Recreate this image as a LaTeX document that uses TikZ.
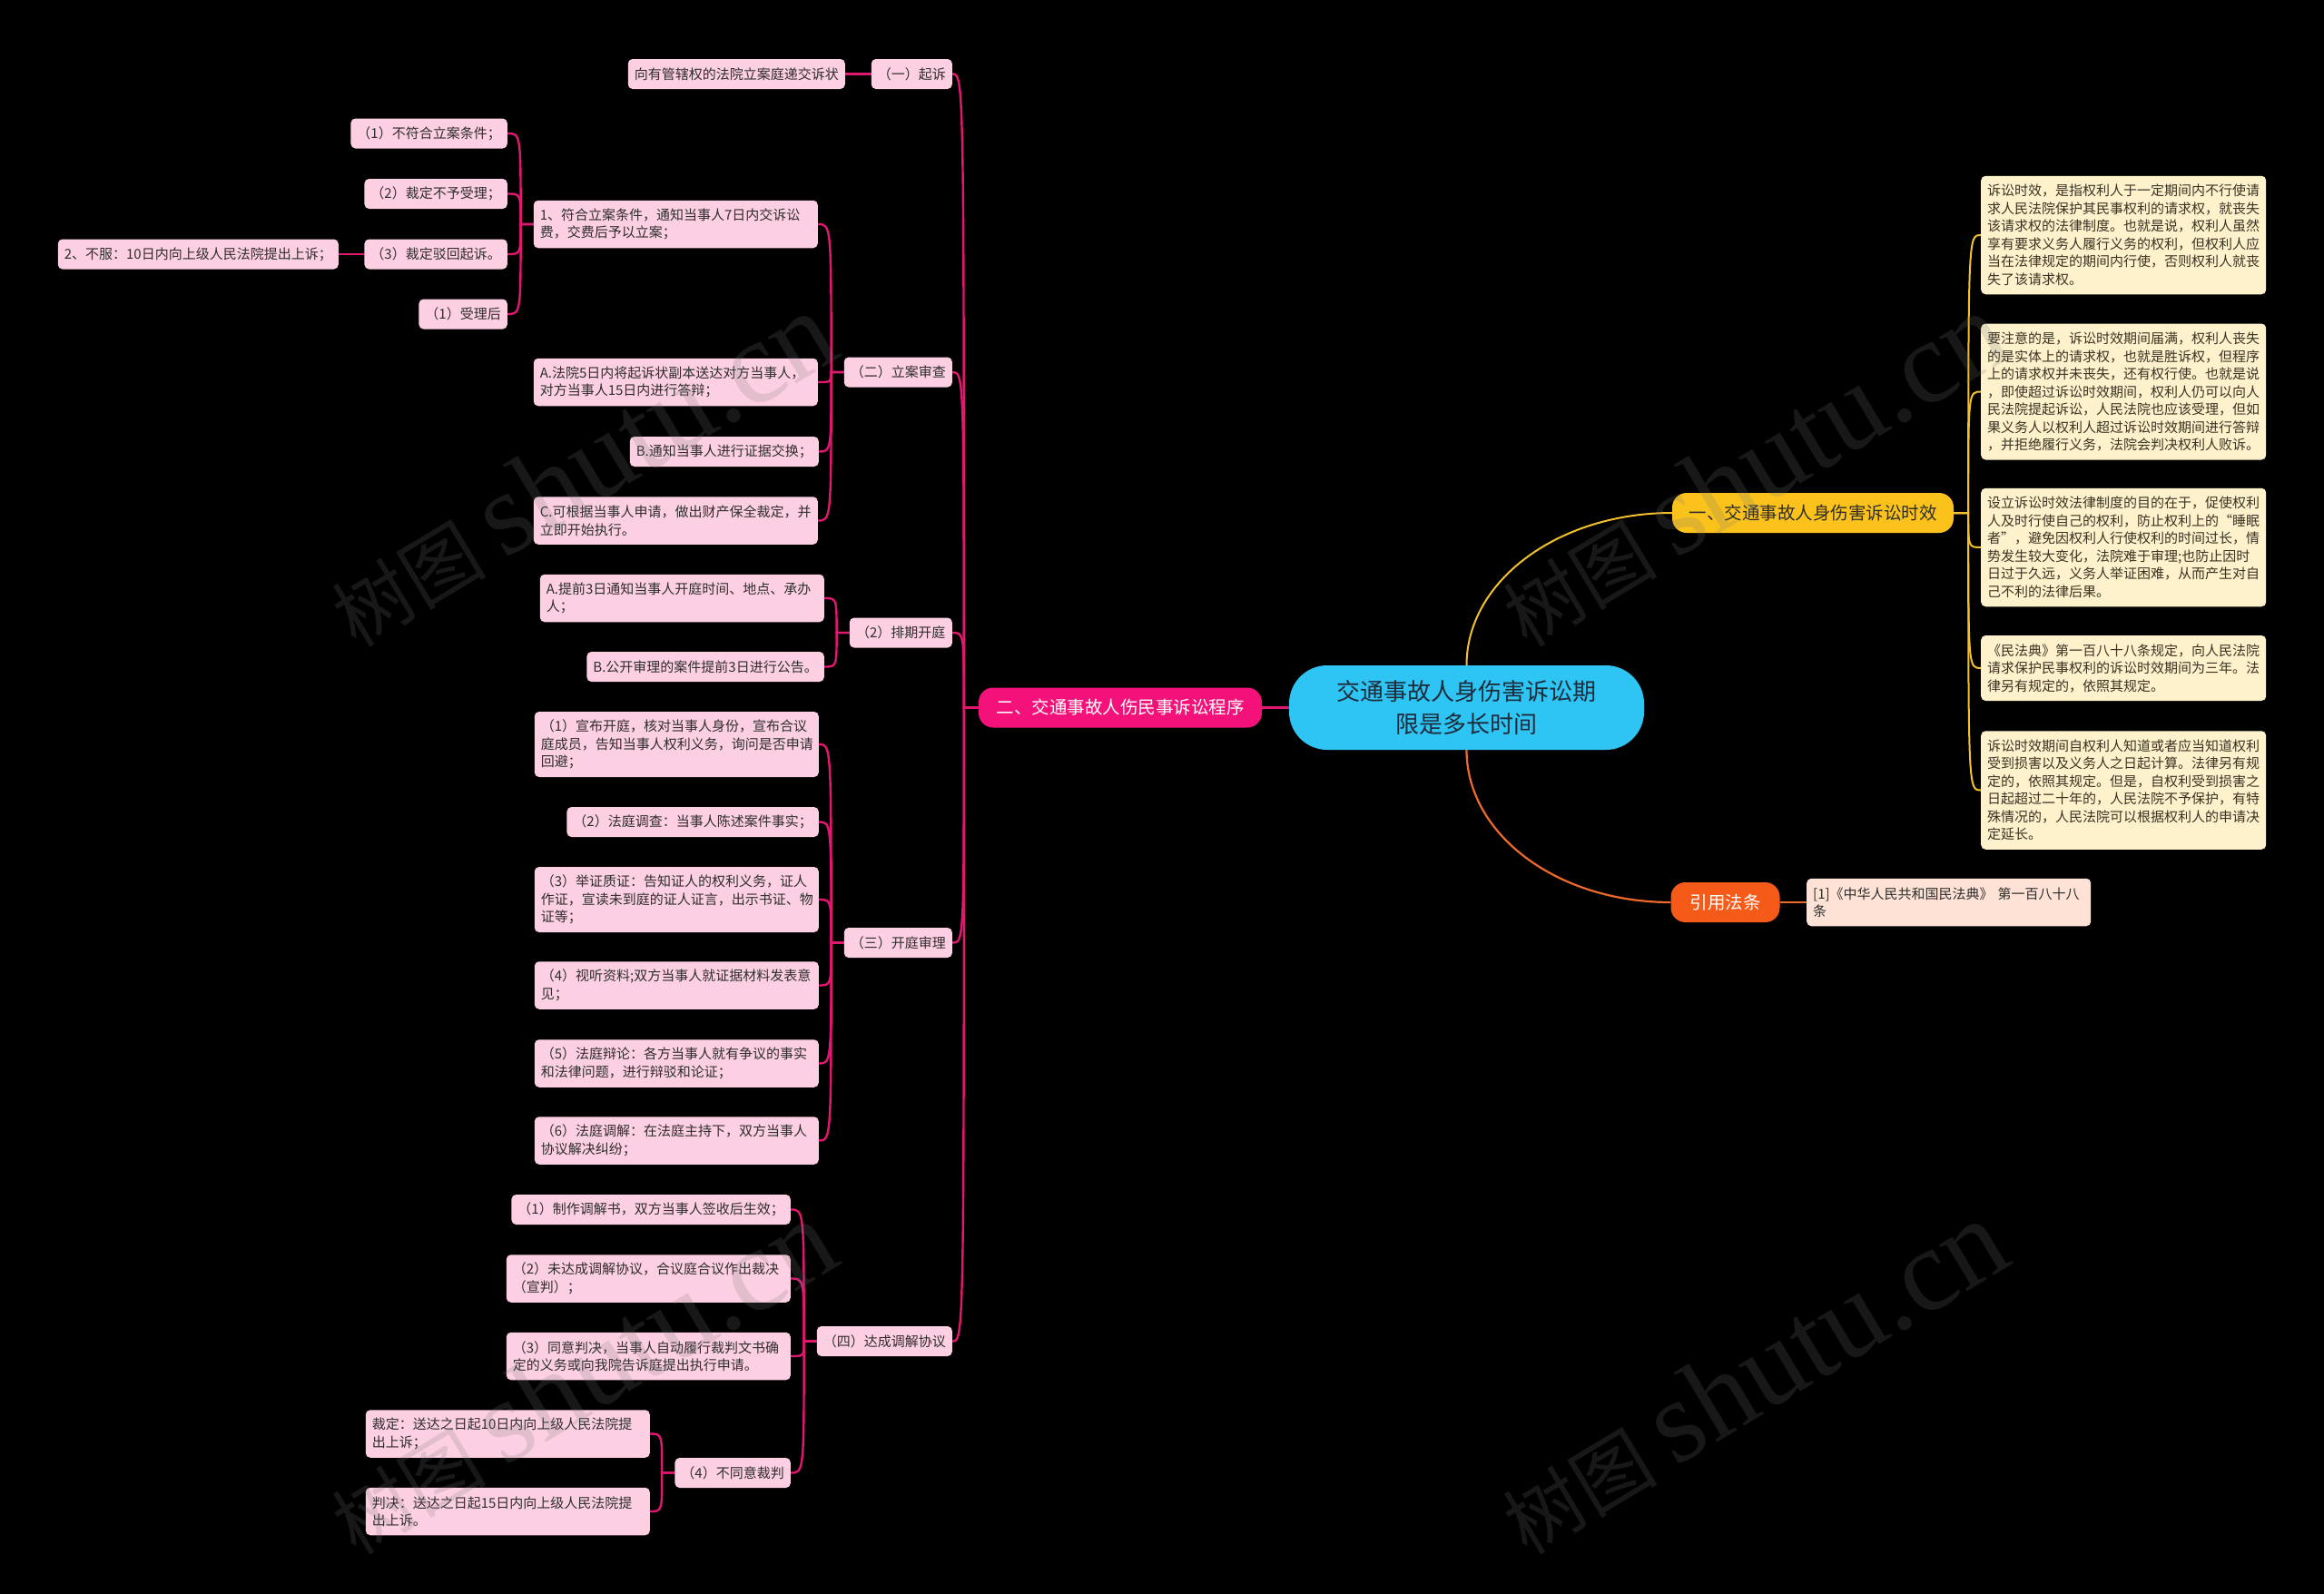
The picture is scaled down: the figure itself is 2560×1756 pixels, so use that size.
\documentclass[tikz,border=0pt]{standalone}
\usepackage{fontspec}
\setmainfont{Noto Sans CJK SC}
\newfontfamily\wmlatin{Liberation Serif}
\usetikzlibrary{calc}

\definecolor{pkfill}{HTML}{FDCFE2}
\definecolor{pktxt}{HTML}{2E2E2E}
\definecolor{pkline}{HTML}{E0186F}
\definecolor{mainpk}{HTML}{F4127A}
\definecolor{rootc}{HTML}{2EC5F4}
\definecolor{roottxt}{HTML}{1E2B3A}
\definecolor{ylfill}{HTML}{FBC21C}
\definecolor{ylline}{HTML}{F3C12C}
\definecolor{crfill}{HTML}{FEF2CD}
\definecolor{crtxt}{HTML}{3A3322}
\definecolor{orfill}{HTML}{F65A18}
\definecolor{orline}{HTML}{EE6A2C}
\definecolor{pcfill}{HTML}{FEE2D5}
\definecolor{wmcol}{HTML}{787878}

\newcommand\leaffont{\fontsize{15}{19.5}\selectfont}
\newcommand\branchfont{\fontsize{19.5}{24}\selectfont}
\newcommand\rootfont{\fontsize{26}{36}\selectfont}

\pgfdeclarelayer{bgl}
\pgfdeclarelayer{lines}
\pgfsetlayers{bgl,lines,main}

\tikzset{
  leaf/.style={fill=pkfill, text=pktxt, rounded corners=5pt, inner xsep=7pt, inner ysep=0pt, font=\leaffont, minimum height=33pt},
  wtext/.style={text width=299pt, align=left},
  twol/.style={minimum height=52.5pt},
  threel/.style={minimum height=72pt},
  cream/.style={fill=crfill, text=crtxt, rounded corners=5pt, inner xsep=7pt, inner ysep=0pt, font=\leaffont, text width=300pt, align=left},
  sixl/.style={minimum height=130.5pt},
  sevenl/.style={minimum height=150pt},
  mainbox/.style={rounded corners=16pt, minimum height=44pt, inner xsep=10pt, font=\branchfont},
  pkconn/.style={draw=pkline, line width=2.4pt},
  ylconn/.style={draw=ylline, line width=2pt},
  orconn/.style={draw=orline, line width=2.2pt},
  wm/.style={text=wmcol, text opacity=0.2, rotate=31, inner sep=0pt},
}

\begin{document}
\begin{tikzpicture}[x=1pt,y=-1pt]
\begin{pgfonlayer}{bgl}
\fill[black] (0,0) rectangle (2560,1756);
\end{pgfonlayer}
\useasboundingbox (0,0) rectangle (2560,1756);

% ---------- main nodes ----------
\node[fill=rootc, text=roottxt, rounded corners=42pt, minimum width=391pt, minimum height=93pt, font=\rootfont, align=center] (root) at (1615.5,779.5) {交通事故人身伤害诉讼期\\限是多长时间};
\node[mainbox, fill=mainpk, text=white, minimum width=312pt] (two) at (1234,779.5) {二、交通事故人伤民事诉讼程序};
\node[mainbox, fill=ylfill, text=pktxt, minimum width=310pt] (yl) at (1997,565) {一、交通事故人身伤害诉讼时效};
\node[mainbox, fill=orfill, text=white, minimum width=120pt] (orn) at (1900.5,994) {引用法条};
\node[fill=pcfill, text=pktxt, rounded corners=5pt, inner xsep=7pt, inner ysep=0pt, font=\leaffont, text width=299pt, align=left, minimum height=52.5pt, anchor=west] (law) at (1990,994) {[1]《中华人民共和国民法典》 第一百八十八\\条};

% ---------- right cream leaves ----------
\node[cream, sixl, anchor=west] (r1) at (2182,259) {诉讼时效，是指权利人于一定期间内不行使请\\求人民法院保护其民事权利的请求权，就丧失\\该请求权的法律制度。也就是说，权利人虽然\\享有要求义务人履行义务的权利，但权利人应\\当在法律规定的期间内行使，否则权利人就丧\\失了该请求权。};
\node[cream, sevenl, anchor=west] (r2) at (2182,431.5) {要注意的是，诉讼时效期间届满，权利人丧失\\的是实体上的请求权，也就是胜诉权，但程序\\上的请求权并未丧失，还有权行使。也就是说\\，即使超过诉讼时效期间，权利人仍可以向人\\民法院提起诉讼，人民法院也应该受理，但如\\果义务人以权利人超过诉讼时效期间进行答辩\\，并拒绝履行义务，法院会判决权利人败诉。};
\node[cream, sixl, anchor=west] (r3) at (2182,603) {设立诉讼时效法律制度的目的在于，促使权利\\人及时行使自己的权利，防止权利上的“睡眠\\者”，避免因权利人行使权利的时间过长，情\\势发生较大变化，法院难于审理;也防止因时\\日过于久远，义务人举证困难，从而产生对自\\己不利的法律后果。};
\node[cream, threel, anchor=west] (r4) at (2182,736) {《民法典》第一百八十八条规定，向人民法院\\请求保护民事权利的诉讼时效期间为三年。法\\律另有规定的，依照其规定。};
\node[cream, sixl, anchor=west] (r5) at (2182,870.5) {诉讼时效期间自权利人知道或者应当知道权利\\受到损害以及义务人之日起计算。法律另有规\\定的，依照其规定。但是，自权利受到损害之\\日起超过二十年的，人民法院不予保护，有特\\殊情况的，人民法院可以根据权利人的申请决\\定延长。};

% ---------- left level 2 ----------
\node[leaf, anchor=east, minimum width=89pt] (n1) at (1049,81.5) {（一）起诉};
\node[leaf, anchor=east, minimum width=118pt] (n2) at (1049,410) {（二）立案审查};
\node[leaf, anchor=east, minimum width=113pt] (n3) at (1049,697) {（2）排期开庭};
\node[leaf, anchor=east, minimum width=118pt] (n4) at (1049,1038.5) {（三）开庭审理};
\node[leaf, anchor=east, minimum width=149pt] (n5) at (1049,1477.5) {（四）达成调解协议};

% ---------- (一) ----------
\node[leaf, anchor=east, minimum width=237pt] (wA) at (931,81.5) {向有管辖权的法院立案庭递交诉状};

% ---------- (二) ----------
\node[leaf, wtext, twol, anchor=east] (b1) at (901,247) {1、符合立案条件，通知当事人7日内交诉讼\\费，交费后予以立案；};
\node[leaf, wtext, twol, anchor=east] (b2) at (901,421) {A.法院5日内将起诉状副本送达对方当事人，\\对方当事人15日内进行答辩；};
\node[leaf, anchor=east, minimum width=207pt] (b3) at (902,497.5) {B.通知当事人进行证据交换；};
\node[leaf, wtext, twol, anchor=east] (b4) at (901,573.5) {C.可根据当事人申请，做出财产保全裁定，并\\立即开始执行。};

\node[leaf, anchor=east, minimum width=171pt] (c1) at (559,147) {（1）不符合立案条件；};
\node[leaf, anchor=east, minimum width=157pt] (c2) at (559,213.5) {（2）裁定不予受理；};
\node[leaf, anchor=east, minimum width=157pt] (c3) at (559,280) {（3）裁定驳回起诉。};
\node[leaf, anchor=east, minimum width=96pt] (c4) at (559,346) {（1）受理后};
\node[leaf, anchor=east, minimum width=309pt] (d1) at (373,280) {2、不服：10日内向上级人民法院提出上诉；};

% ---------- (2) 排期开庭 ----------
\node[leaf, wtext, twol, anchor=east] (e1) at (908,659) {A.提前3日通知当事人开庭时间、地点、承办\\人；};
\node[leaf, anchor=east, minimum width=260pt] (e2) at (908,734.5) {B.公开审理的案件提前3日进行公告。};

% ---------- (三) 开庭审理 ----------
\node[leaf, wtext, threel, anchor=east] (f1) at (902,820) {（1）宣布开庭，核对当事人身份，宣布合议\\庭成员，告知当事人权利义务，询问是否申请\\回避；};
\node[leaf, anchor=east, minimum width=277pt] (f2) at (902,905.5) {（2）法庭调查：当事人陈述案件事实；};
\node[leaf, wtext, threel, anchor=east] (f3) at (902,991) {（3）举证质证：告知证人的权利义务，证人\\作证，宣读未到庭的证人证言，出示书证、物\\证等；};
\node[leaf, wtext, twol, anchor=east] (f4) at (902,1085.5) {（4）视听资料;双方当事人就证据材料发表意\\见；};
\node[leaf, wtext, twol, anchor=east] (f5) at (902,1171.5) {（5）法庭辩论：各方当事人就有争议的事实\\和法律问题，进行辩驳和论证；};
\node[leaf, wtext, twol, anchor=east] (f6) at (902,1256.5) {（6）法庭调解：在法庭主持下，双方当事人\\协议解决纠纷；};

% ---------- (四) 达成调解协议 ----------
\node[leaf, anchor=east, minimum width=306pt] (g1) at (871,1332.5) {（1）制作调解书，双方当事人签收后生效；};
\node[leaf, wtext, twol, anchor=east] (g2) at (871,1408.5) {（2）未达成调解协议，合议庭合议作出裁决\\（宣判）；};
\node[leaf, wtext, twol, anchor=east] (g3) at (871,1494) {（3）同意判决，当事人自动履行裁判文书确\\定的义务或向我院告诉庭提出执行申请。};
\node[leaf, anchor=east, minimum width=127pt] (g4) at (871,1622.5) {（4）不同意裁判};
\node[leaf, wtext, twol, anchor=east] (h1) at (716,1579.5) {裁定：送达之日起10日内向上级人民法院提\\出上诉；};
\node[leaf, wtext, twol, anchor=east] (h2) at (716,1665) {判决：送达之日起15日内向上级人民法院提\\出上诉。};

% ---------- connectors ----------
\begin{pgfonlayer}{lines}
\draw[ylconn] (root.north) .. controls +(0,-93) and +(-125,0) .. (yl.west);
\draw[orconn] (root.south) .. controls +(0,93) and +(-125,0) .. (orn.west);
\draw[orconn] (orn.east) -- (law.west);
\draw[pkconn] (root.west) -- (two.east);

\path (yl.east) ++(16,0) coordinate (ty);
\foreach \c in {r1,r2,r3,r4,r5}
  \draw[ylconn] (yl.east) -- (ty) .. controls (ty |- \c.west) .. (\c.west);

\path (two.west) ++(-16,0) coordinate (t0);
\foreach \c in {n1,n2,n3,n4,n5}
  \draw[pkconn] (two.west) -- (t0) .. controls (t0 |- \c.east) .. (\c.east);

\draw[pkconn] (n1.west) -- (wA.east);

\path (n2.west) ++(-14,0) coordinate (t2);
\foreach \c in {b1,b2,b3,b4}
  \draw[pkconn] (n2.west) -- (t2) .. controls (t2 |- \c.east) .. (\c.east);

\path (b1.west) ++(-14,0) coordinate (tb);
\foreach \c in {c1,c2,c3,c4}
  \draw[pkconn] (b1.west) -- (tb) .. controls (tb |- \c.east) .. (\c.east);

\draw[pkconn] (c3.west) -- (d1.east);

\path (n3.west) ++(-14,0) coordinate (t3);
\foreach \c in {e1,e2}
  \draw[pkconn] (n3.west) -- (t3) .. controls (t3 |- \c.east) .. (\c.east);

\path (n4.west) ++(-14,0) coordinate (t4);
\foreach \c in {f1,f2,f3,f4,f5,f6}
  \draw[pkconn] (n4.west) -- (t4) .. controls (t4 |- \c.east) .. (\c.east);

\path (n5.west) ++(-14,0) coordinate (t5);
\foreach \c in {g1,g2,g3,g4}
  \draw[pkconn] (n5.west) -- (t5) .. controls (t5 |- \c.east) .. (\c.east);

\path (g4.west) ++(-14,0) coordinate (t6);
\foreach \c in {h1,h2}
  \draw[pkconn] (g4.west) -- (t6) .. controls (t6 |- \c.east) .. (\c.east);
\end{pgfonlayer}

% ---------- watermarks ----------
\foreach \p/\q in {640/517, 1930/517, 640/1517, 1930/1517}
  \node[wm] (wm\p\q) at (\p,\q) {{\fontsize{85}{85}\selectfont 树图}\hspace{20pt}{\wmlatin\fontsize{130}{130}\selectfont shutu.cn}};
\end{tikzpicture}
\end{document}
